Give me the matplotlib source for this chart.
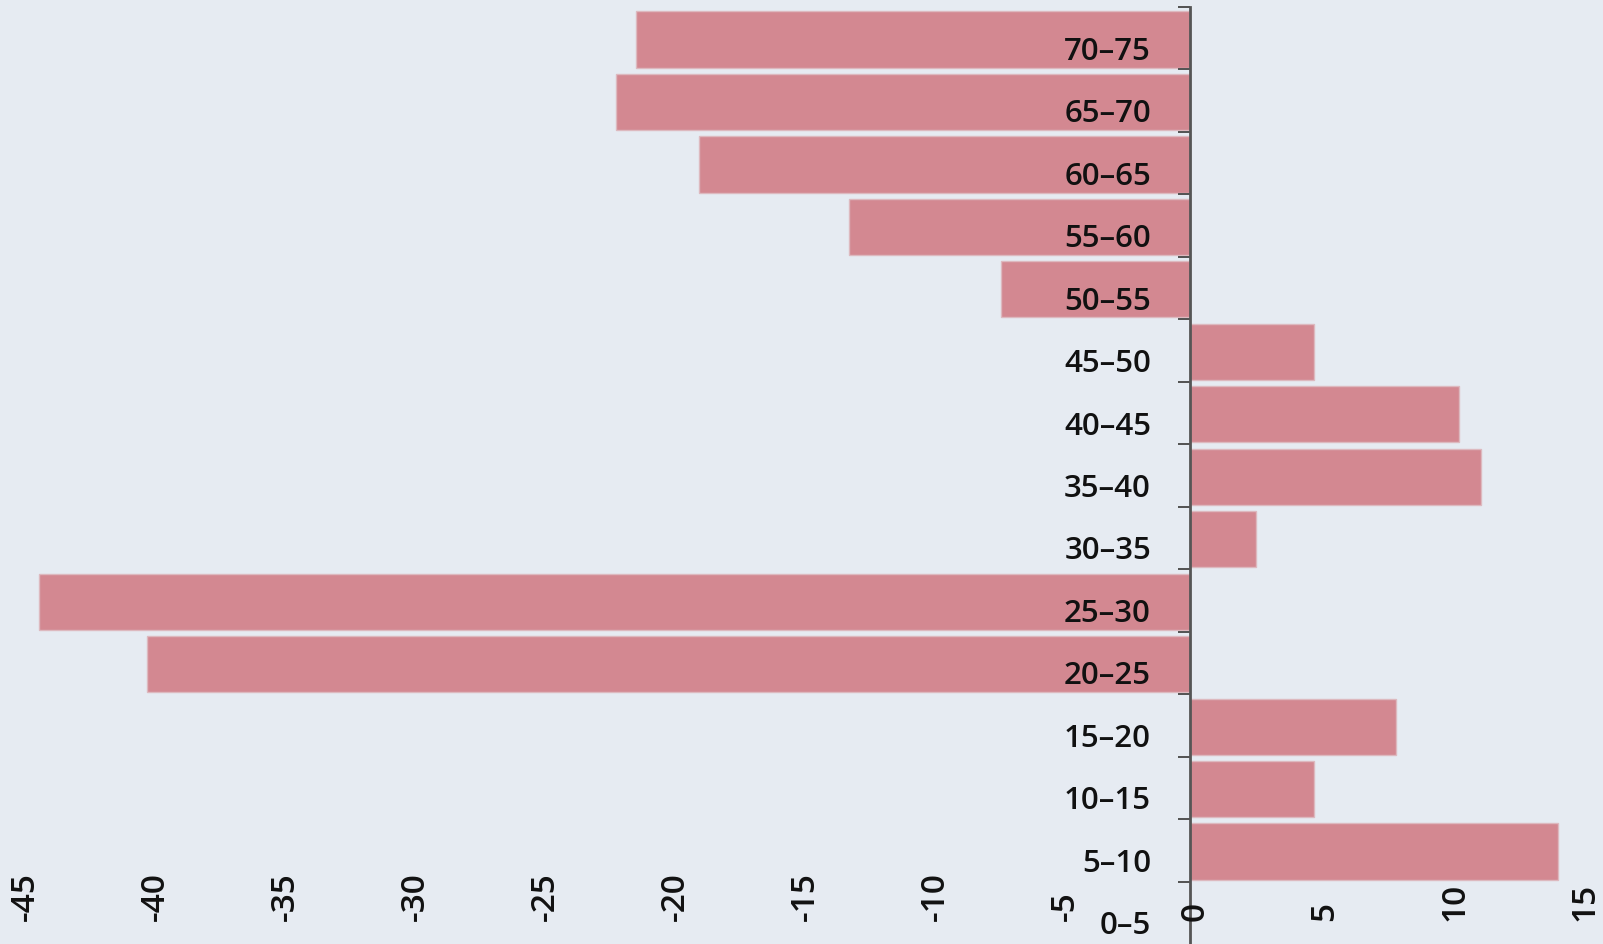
import numpy as np
import matplotlib
matplotlib.use("Agg")
import matplotlib.pyplot as plt
from matplotlib.transforms import ScaledTranslation

categories = ['0–5', '5–10', '10–15', '15–20', '20–25', '25–30', '30–35', '35–40',
              '40–45', '45–50', '50–55', '55–60', '60–65', '65–70', '70–75']
values = [0, 14.17, 4.76, 7.94, -40.1, -44.27, 2.55, 11.2, 10.34, 4.76,
          -7.28, -13.1, -18.87, -22.07, -21.3]
xticks = [-45, -40, -35, -30, -25, -20, -15, -10, -5, 0, 5, 10, 15]

plt.rcParams['font.family'] = ['Open Sans', 'DejaVu Sans']
plt.rcParams['axes.unicode_minus'] = False

BG = '#e6ebf2'
BAR = '#d38891'
DPI = 100
fig = plt.figure(figsize=(16.03, 9.45), dpi=DPI, facecolor=BG)
ax = fig.add_axes([0, 0, 1, 1 - 8 / 945])
ax.set_facecolor(BG)
ax.set_axisbelow(False)

y = np.arange(len(categories))
ax.barh(y - 0.02, values, height=0.9, color=BAR, edgecolor='#ddb9bf', linewidth=1, zorder=1)

ax.set_ylim(-0.5, len(categories) - 0.5)
ax.set_xlim(-1190 / 26, (1603 - 1190) / 26)

for s in ['top', 'right', 'bottom']:
    ax.spines[s].set_visible(False)
ax.spines['left'].set_position(('data', 0))
ax.spines['left'].set_color('#555555')
ax.spines['left'].set_linewidth(2)

# band boundaries as major ticks, labels as minor ticks
ax.set_yticks(np.append(y[:-1] + 0.5, len(categories) - 0.5))
ax.set_yticklabels([])
ax.set_yticks(y, categories, minor=True)
ax.tick_params(axis='y', which='major', length=12 * 72 / DPI, width=2 * 72 / DPI,
               color='#555555', direction='out')
ax.tick_params(axis='y', which='minor', length=0, pad=39 * 72 / DPI,
               labelsize=22.5, labelcolor='#111111')
for lbl in ax.get_yticklabels(minor=True):
    lbl.set_fontweight('semibold')
    lbl.set_transform(lbl.get_transform() + ScaledTranslation(0, -9 / DPI, fig.dpi_scale_trans))

ax.set_xticks(xticks, [str(t) for t in xticks], rotation=90, va='bottom', fontweight='semibold')
ax.tick_params(axis='x', length=0, pad=-24 * 72 / DPI, labelsize=24, labelcolor='#111111')
for lbl in ax.get_xticklabels():
    lbl.set_transform(lbl.get_transform() + ScaledTranslation(5 / DPI, 0, fig.dpi_scale_trans))

fig.savefig('out.png', dpi=DPI, facecolor=BG)
